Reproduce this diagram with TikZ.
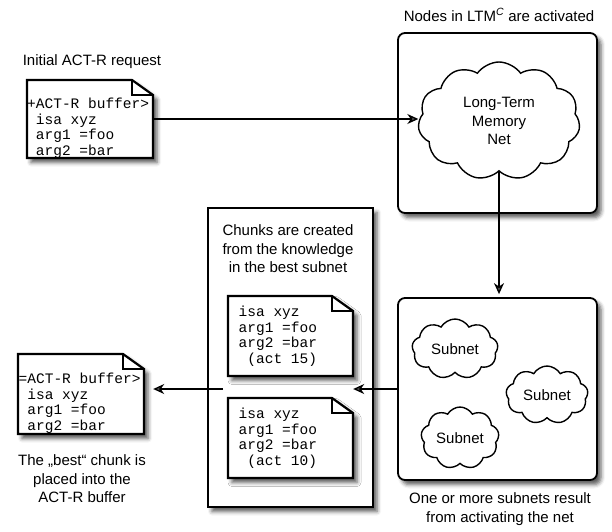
\documentclass[tikz,border=0pt]{standalone}
\usepackage{fontspec}
\setmainfont{Liberation Sans}
\setmonofont{Liberation Mono}
\usetikzlibrary{shapes.symbols,shadows.blur,arrows.meta}

% dog-eared chunk note: name, left, top, width, height
\newcommand{\chunknote}[5]{%
  \draw[noteline,fill=white,boxshadow] (#2,#3) -- ++(#4-21,0) -- ++(21,15) -- (#2+#4,#3+#5) -- (#2,#3+#5) -- cycle;
  \draw[noteline] (#2+#4-21,#3) -- ++(0,15) -- ++(21,0);
  \node[minimum width=#4, minimum height=#5, inner sep=0] (#1) at (#2+#4/2,#3+#5/2) {};
}

\begin{document}
\begin{tikzpicture}[x=1pt,y=-1pt,
  txt/.style={font=\fontsize{15}{18.5}\selectfont, align=center, inner sep=0},
  memo/.style={font=\ttfamily\fontsize{14.5}{15.5}\selectfont, align=left, inner sep=0, anchor=north west},
  noteline/.style={line width=2.2pt, line join=miter},
  boxshadow/.style={blur shadow={shadow xshift=4pt, shadow yshift=-4.5pt, shadow blur radius=4pt, shadow opacity=65}},
  panel/.style={draw, line width=1.8pt, fill=white, boxshadow, inner sep=0},
  puff/.style={cloud, draw, line width=1.4pt, cloud puffs=9, cloud puff arc=120, cloud ignores aspect, inner sep=0, font=\fontsize{15}{18.5}\selectfont, align=center},
  arr/.style={line width=1.3pt, -{Stealth[length=11pt, width=10pt, inset=3.5pt]}}]
  \useasboundingbox (0,0) rectangle (612,531);

  % the three panels
  \node[panel, rounded corners=7pt, minimum width=199, minimum height=180] (ltmbox) at (497.5,123) {};
  \node[panel, rounded corners=7pt, minimum width=199, minimum height=182] (subbox) at (497.5,389) {};
  \node[panel, minimum width=165, minimum height=299] (chunks) at (290.5,357.5) {};

  % clouds
  \node[puff, cloud puffs=11, cloud puff arc=110, minimum width=162, minimum height=118] (ltm) at (499,121) {Long-Term\\Memory\\Net};
  \node[puff, minimum width=86, minimum height=60] (sub1) at (455,349) {Subnet};
  \node[puff, minimum width=82, minimum height=58] (sub2) at (547,395) {Subnet};
  \node[puff, minimum width=78, minimum height=62] (sub3) at (460,438) {Subnet};

  % notes
  \chunknote{req}{27}{80}{126}{78}
  \node[memo] (req-t) at (27,98) {+ACT-R buffer>\\\ isa xyz\\\ arg1 =foo\\\ arg2 =bar};
  \chunknote{hi}{228}{296}{125}{80}
  \node[memo] (hi-t) at (238.5,306) {isa xyz\\arg1 =foo\\arg2 =bar\\\ (act 15)};
  \chunknote{lo}{228}{398}{125}{80}
  \node[memo] (lo-t) at (238.5,408) {isa xyz\\arg1 =foo\\arg2 =bar\\\ (act 10)};
  \chunknote{best}{18}{354}{126}{80}
  \node[memo] (best-t) at (18.5,373) {=ACT-R buffer>\\\ isa xyz\\\ arg1 =foo\\\ arg2 =bar};

  % captions
  \node[txt] (req-l) at (92,62) {Initial ACT-R request};
  \node[txt] (ltm-l) at (499,15) {Nodes in LTM\textsuperscript{\textit{C}} are activated};
  \node[txt] (chunks-l) at (288,249) {Chunks are created\\from the knowledge\\in the best subnet};
  \node[txt] (best-l) at (82,479) {The „best“ chunk is\\placed into the\\ACT-R buffer};
  \node[txt] (sub-l) at (500,509) {One or more subnets result\\from activating the net};

  % flow
  \draw[arr] (req.east) -- (req.east -| ltm.west);
  \draw[arr, shorten >=3pt] (ltm.south) -- (ltm.south |- subbox.north);
  \draw[arr] (subbox.west) -- (subbox.west -| hi.east);
  \coordinate (split) at (223,389);
  \draw[arr, shorten >=9pt] (split) -- (split -| best.east);
\end{tikzpicture}
\end{document}
